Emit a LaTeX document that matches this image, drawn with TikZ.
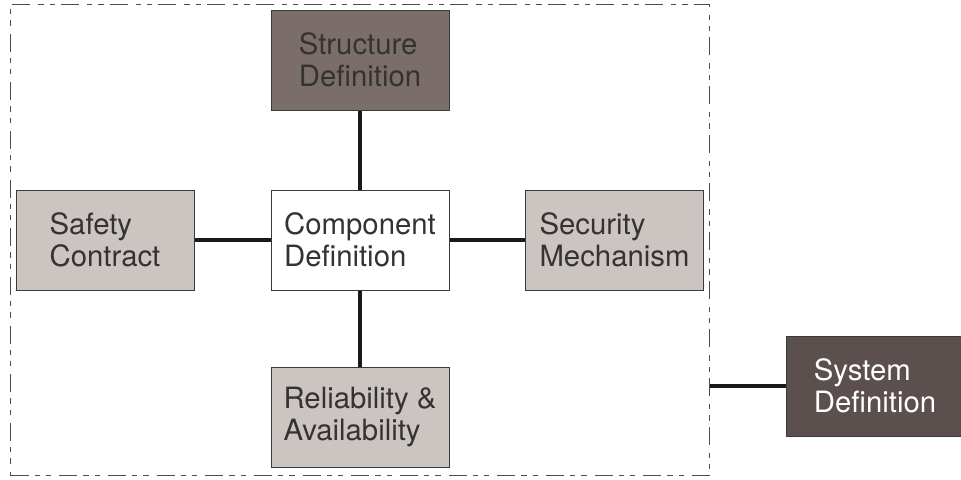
\documentclass[tikz,border=0pt]{standalone}
\usepackage{fontspec}
\setmainfont{TeX Gyre Heros}
\usepackage{xcolor}
\usepackage{tikz}
\definecolor{lightbox}{HTML}{CBC4C1}
\definecolor{midbox}{HTML}{7B6E6A}
\definecolor{darkbox}{HTML}{5B504D}
\definecolor{boxtext}{HTML}{333333}
\definecolor{boxline}{HTML}{3A3A3A}
\tikzstyle{part} = [rectangle,
					minimum width=133.5pt,
					minimum height=75pt,
					inner sep=0pt,
					align=left,
					font=\fontsize{22}{24}\selectfont,
					text=boxtext,
					draw=boxline,
					line width=0.75pt,
					fill=lightbox,
				   ]
\tikzstyle{corepart} = [part,
						fill=white,
					   ]
\tikzstyle{structpart} = [part,
						  fill=midbox,
						 ]
\tikzstyle{syspart} = [part,
					   fill=darkbox,
					   text=white,
					  ]
\tikzstyle{boundary} = [rectangle,
						minimum width=524.25pt,
						minimum height=353.25pt,
						draw=black!70,
						line width=0.8pt,
						dash pattern=on 13.5pt off 4.5pt on 4pt off 4.5pt on 4pt off 6pt,
					   ]
\tikzstyle{link} = [line width=3pt, black!90]

\begin{document}
\begin{tikzpicture}[node distance=135pt]

\useasboundingbox (0,0) rectangle (720.75pt,-359.25pt);

\node (comp) [corepart] at (270pt,-180pt) {Component\\Definition};
\node (frame) [boundary] at (comp) {};
\node (struct) [structpart, above of =comp] {Structure\\Definition};
\node (safety) [part, left of =comp, xshift=-56.25pt] {Safety\\Contract};
\node (security) [part, right of =comp, xshift=55.9pt] {Security\\Mechanism};
\node (rel) [part, below of =comp, yshift=2.25pt] {Reliability \&\\Availability};
\node (sys) [syspart, right of =comp, xshift=251.25pt, yshift=-109.5pt] {System\\Definition};

\draw [link] (comp) -- (struct);
\draw [link] (comp) -- (safety);
\draw [link] (comp) -- (security);
\draw [link] (comp) -- (rel);
\draw [link] (sys) -- (sys -| frame.east);

\end{tikzpicture}
\end{document}
